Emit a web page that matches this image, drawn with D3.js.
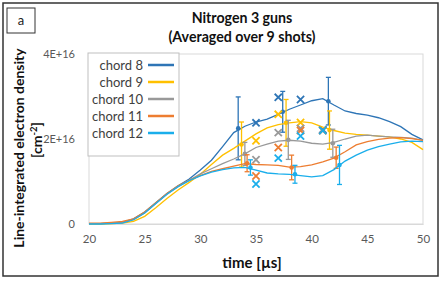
<!DOCTYPE html>
<html>
<head>
<meta charset="utf-8">
<script src="https://cdn.jsdelivr.net/npm/d3@7"></script>
<style>
  body { margin: 0; background: #fff; }
  svg { display: block; font-family: Lato, "Open Sans", sans-serif; }
</style>
</head>
<body>
<div id="chart"></div>
<script>
// time axis (µs) for the traces
var times = [20,21,22,23,24,25,26,27,28,29,30,31,32,33,34,35,36,37,38,39,40,41,42,43,44,45,46,47,48,49,50];

// line-integrated density, in units of 1E+16 cm^-2
var chord8  = [0.01,0.01,0.02,0.04,0.12,0.28,0.50,0.72,0.90,1.06,1.27,1.50,1.82,2.15,2.30,2.40,2.47,2.58,2.70,2.80,2.90,2.95,2.80,2.66,2.60,2.56,2.50,2.41,2.29,2.11,1.98];
var chord9  = [0.00,0.00,0.01,0.02,0.06,0.18,0.38,0.60,0.80,0.98,1.17,1.40,1.62,1.78,1.95,2.12,2.26,2.34,2.38,2.41,2.38,2.28,2.20,2.14,2.11,2.09,2.07,2.05,2.00,1.92,1.75];
var chord10 = [0.01,0.01,0.02,0.03,0.10,0.26,0.48,0.70,0.88,1.03,1.18,1.30,1.42,1.53,1.65,1.80,1.88,1.95,1.97,1.95,1.90,1.88,1.92,2.00,2.07,2.09,2.07,2.05,2.04,2.02,1.97];
var chord11 = [0.02,0.02,0.04,0.06,0.12,0.28,0.50,0.72,0.90,1.03,1.14,1.24,1.30,1.36,1.42,1.40,1.39,1.38,1.34,1.35,1.39,1.46,1.55,1.70,1.86,1.94,1.99,2.02,2.03,2.01,1.97];
var chord12 = [0.00,0.00,0.01,0.02,0.10,0.26,0.48,0.70,0.88,1.02,1.13,1.22,1.28,1.32,1.33,1.27,1.20,1.18,1.17,1.14,1.11,1.14,1.28,1.48,1.62,1.74,1.82,1.88,1.93,1.95,1.94];

// averaged points with error bars: [time, value, error]
var err8  = [[33.4,2.25,0.74],[37.4,2.64,0.48],[41.5,2.89,0.56]];
var err9  = [[33.7,1.87,0.53],[37.7,2.38,0.55],[41.6,2.21,0.45]];
var err10 = [[34.0,1.65,0.27],[37.9,1.98,0.46],[41.9,1.90,0.33]];
var err11 = [[34.2,1.43,0.20],[38.2,1.33,0.29],[42.2,1.56,0.25]];
var err12 = [[34.5,1.33,0.18],[38.5,1.17,0.21],[42.5,1.39,0.46]];

// other measurement (crosses): [time, value]
var x8  = [[35,2.38],[37,2.98],[39,2.93],[41,2.22]];
var x9  = [[35,1.96],[37,2.58],[39,2.39]];
var x10 = [[35,1.51],[37,2.15],[39,2.25],[41,2.20]];
var x11 = [[35,1.13],[37,1.80],[39,2.20],[41,2.20]];
var x12 = [[35,0.94],[37,1.55],[39,2.07],[41,2.20]];

var names = ["chord 8", "chord 9", "chord 10", "chord 11", "chord 12"];
var colors = ["#2E75B6", "#FFC000", "#999999", "#ED7D31", "#1AAEEB"];
var xTicks = [20, 25, 30, 35, 40, 45, 50];
var yTicks = [0, 2, 4];

var series = [
  { name: names[0], color: colors[0], vals: chord8,  err: err8,  cross: x8 },
  { name: names[1], color: colors[1], vals: chord9,  err: err9,  cross: x9 },
  { name: names[2], color: colors[2], vals: chord10, err: err10, cross: x10 },
  { name: names[3], color: colors[3], vals: chord11, err: err11, cross: x11 },
  { name: names[4], color: colors[4], vals: chord12, err: err12, cross: x12 }
];

var width = 443, height = 282;
var svg = d3.select('#chart').append('svg')
  .attr('width', width)
  .attr('height', height);

var x = d3.scaleLinear().domain([20, 50]).range([89, 423]);
var y = d3.scaleLinear().domain([0, 4]).range([224, 54]);

// outer frame and panel tag
svg.append('rect').attr('x', 3).attr('y', 3).attr('width', 435).attr('height', 273)
  .attr('fill', 'none').attr('stroke', '#333').attr('stroke-width', 1.5);
svg.append('rect').attr('x', 7).attr('y', 8).attr('width', 28).attr('height', 25)
  .attr('fill', 'none').attr('stroke', '#333').attr('stroke-width', 1);
svg.append('text').attr('x', 21).attr('y', 25).attr('text-anchor', 'middle')
  .attr('font-size', 13).attr('fill', '#222').text('a');

// titles
svg.append('text').attr('x', 242).attr('y', 23).attr('text-anchor', 'middle')
  .attr('font-size', 14.2).attr('font-weight', 'bold').attr('fill', '#111').text('Nitrogen 3 guns');
svg.append('text').attr('x', 242).attr('y', 42).attr('text-anchor', 'middle')
  .attr('font-size', 14.2).attr('font-weight', 'bold').attr('fill', '#111').text('(Averaged over 9 shots)');

// plot area border
svg.append('rect').attr('x', 89).attr('y', 54).attr('width', 334).attr('height', 170)
  .attr('fill', 'none').attr('stroke', '#D9D9D9').attr('stroke-width', 1);

// axes
var xAxis = svg.append('g').attr('transform', 'translate(0,224)')
  .call(d3.axisBottom(x).tickValues(xTicks).tickSize(0).tickPadding(11));
xAxis.select('.domain').attr('stroke', '#D9D9D9');
xAxis.selectAll('text').attr('font-size', 11.5).attr('fill', '#595959').attr('font-family', 'Lato, sans-serif');

var yAxis = svg.append('g').attr('transform', 'translate(89,0)')
  .call(d3.axisLeft(y).tickValues(yTicks).tickSize(0).tickPadding(14)
    .tickFormat(function(d) { return d === 0 ? '0' : d + 'E+16'; }));
yAxis.select('.domain').remove();
yAxis.selectAll('text').attr('font-size', 11).attr('fill', '#595959').attr('font-family', 'Lato, sans-serif');

// axis titles
svg.append('text').attr('x', 252).attr('y', 268).attr('text-anchor', 'middle')
  .attr('font-size', 15).attr('font-weight', 'bold').attr('fill', '#111').text('time [µs]');
svg.append('text').attr('transform', 'translate(24,148) rotate(-90)').attr('text-anchor', 'middle')
  .attr('font-size', 14).attr('font-weight', 'bold').attr('fill', '#111')
  .text('Line-integrated electron density');
var unit = svg.append('text').attr('transform', 'translate(42,140) rotate(-90)').attr('text-anchor', 'middle')
  .attr('font-size', 14).attr('font-weight', 'bold').attr('fill', '#111');
unit.append('tspan').text('[cm');
unit.append('tspan').attr('dy', -5).attr('font-size', 9.5).text('-2');
unit.append('tspan').attr('dy', 5).text(']');

var line = d3.line()
  .x(function(d) { return x(d[0]); })
  .y(function(d) { return y(d[1]); });

series.forEach(function(s) {
  var g = svg.append('g');
  g.append('path')
    .datum(times.map(function(t, i) { return [t, s.vals[i]]; }))
    .attr('fill', 'none')
    .attr('stroke', s.color)
    .attr('stroke-width', 1.3)
    .attr('d', line);

  var eb = g.selectAll('g.err').data(s.err).enter().append('g');
  eb.append('line')
    .attr('x1', function(d) { return x(d[0]); })
    .attr('x2', function(d) { return x(d[0]); })
    .attr('y1', function(d) { return y(d[1] - d[2]); })
    .attr('y2', function(d) { return y(d[1] + d[2]); })
    .attr('stroke', s.color).attr('stroke-width', 1.3);
  [-1, 1].forEach(function(sign) {
    eb.append('line')
      .attr('x1', function(d) { return x(d[0]) - 2.5; })
      .attr('x2', function(d) { return x(d[0]) + 2.5; })
      .attr('y1', function(d) { return y(d[1] + sign * d[2]); })
      .attr('y2', function(d) { return y(d[1] + sign * d[2]); })
      .attr('stroke', s.color).attr('stroke-width', 1.3);
  });
  eb.append('circle')
    .attr('cx', function(d) { return x(d[0]); })
    .attr('cy', function(d) { return y(d[1]); })
    .attr('r', 2.3)
    .attr('fill', s.color);

  g.selectAll('path.cross').data(s.cross).enter().append('path')
    .attr('d', function(d) {
      var cx = x(d[0]), cy = y(d[1]), r = 3.6;
      return 'M' + (cx - r) + ',' + (cy - r) + 'L' + (cx + r) + ',' + (cy + r) +
             'M' + (cx - r) + ',' + (cy + r) + 'L' + (cx + r) + ',' + (cy - r);
    })
    .attr('stroke', s.color).attr('stroke-width', 1.8).attr('fill', 'none');
});

// legend
var legend = svg.append('g');
legend.append('rect').attr('x', 88).attr('y', 53).attr('width', 91).attr('height', 103)
  .attr('fill', '#fff').attr('stroke', '#BFBFBF').attr('stroke-width', 1);
var items = legend.selectAll('g.item').data(series).enter().append('g')
  .attr('transform', function(d, i) { return 'translate(0,' + (65 + i * 17) + ')'; });
items.append('text')
  .attr('x', 143).attr('y', 4.5).attr('text-anchor', 'end')
  .attr('font-size', 13).attr('fill', '#404040')
  .text(function(d) { return d.name; });
items.append('line')
  .attr('x1', 148).attr('x2', 174).attr('y1', 0).attr('y2', 0)
  .attr('stroke', function(d) { return d.color; }).attr('stroke-width', 2.5);
</script>
</body>
</html>
